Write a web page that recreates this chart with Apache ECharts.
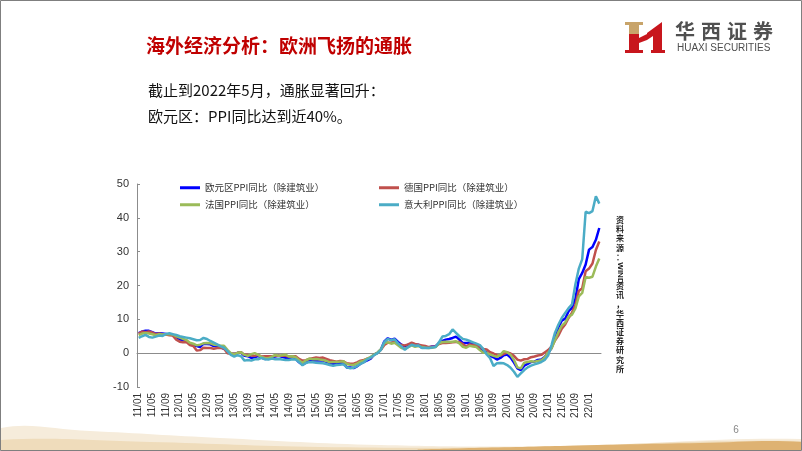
<!DOCTYPE html>
<html>
<head>
<meta charset="utf-8">
<script src="https://cdn.jsdelivr.net/npm/echarts@6/dist/echarts.min.js"></script>
<style>
html, body { margin: 0; padding: 0; background: #fff; }
#ppi { width: 802px; height: 451px; }
</style>
</head>
<body>
<div id="ppi"></div>
<script>
// 月份：2011/01 - 2022/04
let months = [];
for (let y = 11; y <= 22; y++) {
  for (let m = 1; m <= 12; m++) {
    if (y === 22 && m > 4) break;
    months.push(y + '/' + (m < 10 ? '0' + m : m));
  }
}

let seriesNames = [
  '欧元区PPI同比（除建筑业）',
  '德国PPI同比（除建筑业）',
  '法国PPI同比（除建筑业）',
  '意大利PPI同比（除建筑业）'
];

// 欧元区
let euroArea = [
  5.9, 6.4, 6.6, 6.6, 6.2, 5.8, 5.9, 5.8, 5.7, 5.5, 5.4, 4.8,
  4.1, 3.8, 3.5, 2.7, 2.4, 2.1, 1.8, 2.8, 2.7, 2.6, 2.1, 2.2,
  1.7, 1.3, 0.6, -0.2, -0.2, 0.1, 0.2, -0.8, -0.9, -1.4, -1.2, -0.8,
  -1.4, -1.7, -1.6, -1.2, -1.0, -0.8, -1.1, -1.4, -1.4, -1.3, -1.6, -2.7,
  -3.4, -2.8, -2.3, -2.2, -2.1, -2.2, -2.1, -2.6, -3.1, -3.1, -3.2, -3.0,
  -3.0, -4.2, -4.2, -4.4, -3.9, -3.1, -2.6, -2.1, -1.6, -0.4, 0.1, 1.1,
  3.5, 4.4, 3.9, 4.3, 3.3, 2.5, 2.0, 2.5, 2.8, 2.5, 2.5, 1.6,
  1.6, 1.7, 2.0, 2.0, 3.0, 3.6, 4.0, 4.2, 4.5, 4.9, 4.0, 3.0,
  3.0, 3.0, 2.9, 2.6, 1.6, 0.7, 0.2, -0.8, -1.2, -1.9, -1.4, -0.6,
  -0.4, -1.3, -2.8, -4.5, -5.0, -3.7, -3.2, -2.6, -2.5, -2.0, -1.9, -1.1,
  0.0, 1.5, 4.3, 7.6, 9.6, 10.2, 12.4, 13.4, 16.0, 21.9, 23.7, 26.2,
  30.6, 31.4, 33.5, 37.0
];
// 德国
let germany = [
  5.7, 6.4, 6.2, 6.4, 6.1, 5.6, 5.8, 5.5, 5.5, 5.3, 5.2, 4.0,
  3.4, 3.2, 3.3, 2.4, 2.1, 0.8, 0.9, 1.6, 1.5, 1.5, 1.3, 1.5,
  1.6, 1.4, 0.0, -0.2, -0.2, 0.1, 0.3, -0.5, -0.5, -0.7, -0.8, -0.5,
  -1.0, -0.9, -0.9, -0.9, -0.8, -0.7, -0.8, -0.8, -1.0, -1.0, -0.9, -1.7,
  -2.2, -2.1, -1.7, -1.5, -1.3, -1.4, -1.3, -1.7, -2.1, -2.3, -2.5, -2.3,
  -2.4, -3.0, -3.1, -3.1, -2.7, -2.2, -2.0, -1.6, -1.4, -0.4, 0.1, 1.0,
  2.4, 3.1, 3.1, 3.4, 2.8, 2.4, 2.3, 2.6, 3.1, 2.7, 2.5, 2.3,
  2.1, 1.8, 1.9, 2.0, 2.7, 3.0, 3.0, 3.1, 3.2, 3.3, 3.3, 2.7,
  1.9, 2.6, 2.4, 2.5, 1.9, 1.2, 1.1, 0.3, -0.1, -0.6, -0.7, -0.2,
  0.2, -0.1, -0.8, -1.9, -2.2, -1.8, -1.7, -1.2, -1.0, -0.7, -0.5, 0.2,
  0.9, 1.9, 3.7, 5.2, 7.2, 8.5, 10.4, 12.0, 14.2, 18.4, 19.2, 24.2,
  25.0, 26.5, 30.5, 33.0
];
// 法国
let france = [
  5.3, 5.8, 6.0, 5.8, 5.6, 5.3, 5.6, 5.5, 5.6, 5.6, 5.5, 5.0,
  4.6, 4.2, 3.9, 3.1, 2.8, 2.3, 2.5, 2.9, 3.0, 2.9, 2.5, 2.4,
  2.2, 2.2, 1.0, 0.0, -0.3, 0.1, 0.3, -0.5, -0.8, -0.3, 0.0, -0.5,
  -1.1, -1.4, -1.5, -1.1, -0.5, -0.8, -0.6, -0.4, -1.0, -0.9, -1.2, -2.1,
  -2.9, -2.1, -1.6, -1.8, -1.7, -1.9, -2.0, -2.3, -2.7, -2.6, -2.6, -2.5,
  -2.4, -3.2, -3.4, -3.5, -3.1, -2.5, -2.2, -1.6, -1.1, -0.4, 0.2, 1.2,
  3.0, 3.2, 2.8, 3.1, 2.3, 1.5, 1.3, 1.8, 2.3, 1.9, 2.1, 1.8,
  1.6, 1.5, 1.6, 1.8, 2.9, 3.3, 3.4, 3.3, 3.4, 3.5, 2.9, 1.9,
  1.6, 2.2, 2.0, 1.8, 0.9, 0.1, 0.1, -0.4, -0.8, -1.1, -0.5, 0.6,
  0.3, -0.5, -2.0, -4.2, -4.5, -2.8, -2.6, -2.4, -2.5, -2.3, -2.1, -1.3,
  0.2, 1.4, 3.8, 6.2, 8.1, 9.0, 10.8, 11.4, 13.2, 16.8, 17.8, 22.5,
  22.3, 22.6, 25.6, 28.0
];
// 意大利
let italy = [
  4.5, 5.0, 5.4, 4.8, 4.6, 4.9, 5.2, 5.1, 5.7, 5.9, 5.6, 5.4,
  5.0, 4.8, 4.6, 4.4, 4.1, 3.8, 3.9, 4.5, 4.2, 3.6, 3.1, 2.6,
  2.0, 1.6, 0.6, -0.5, -1.0, -0.6, -0.9, -2.2, -2.0, -2.2, -1.8, -1.8,
  -1.4, -1.8, -1.9, -1.6, -1.8, -1.7, -1.9, -2.0, -2.0, -1.8, -1.9, -2.6,
  -3.6, -2.9, -2.6, -2.7, -2.8, -2.9, -3.0, -3.2, -3.5, -3.7, -3.5, -3.4,
  -3.3, -4.2, -4.5, -4.3, -3.8, -3.2, -2.7, -1.8, -1.3, -0.6, 0.0, 1.0,
  3.3, 4.2, 3.8, 4.1, 2.9, 2.0, 1.0, 1.8, 2.5, 2.2, 2.3, 1.5,
  1.6, 1.5, 1.7, 1.8, 3.2, 4.9, 5.1, 5.6, 7.0, 6.0, 5.0, 4.2,
  4.0, 3.6, 3.2, 2.8, 2.4, 1.2, -0.4, -1.5, -3.8, -3.0, -2.9, -3.0,
  -3.5, -4.3, -5.5, -7.0, -6.0, -5.0, -4.2, -3.7, -3.3, -3.0, -2.6, -2.0,
  -0.7, 2.4, 6.0, 8.4, 10.4, 11.9, 13.3, 14.4, 20.4, 25.0, 27.8, 41.8,
  41.4, 42.0, 46.4, 44.2
];

let colors = ['#0000ff', '#c0504d', '#9bbb59', '#4bacc6'];
let yTicks = { min: -10, max: 50, step: 10 };

let cnFont = '"Noto Sans CJK SC", sans-serif';
let latFont = '"Liberation Sans", Arial, sans-serif';

// 右侧竖排的资料来源（逐字排列）
let sourceGraphic = [];
let sy = 220;
function pushChars (str) {
  str.split('').forEach(ch => {
    sourceGraphic.push({
      type: 'text', x: 620, y: sy,
      style: { text: ch, font: 'bold 8px ' + cnFont, fill: '#222', align: 'center', verticalAlign: 'middle' }
    });
    sy += 9.2;
  });
}
pushChars('资料来源：');
sourceGraphic.push({
  type: 'text', x: 620, y: sy + 7, rotation: -Math.PI / 2,
  style: { text: 'WIND', font: 'bold 8px ' + latFont, fill: '#222', align: 'center', verticalAlign: 'middle' }
});
sy += 20;
pushChars('资讯，华西证券研究所');

// 华西证券 字距较宽，逐字放置
let logoChars = [];
'华西证券'.split('').forEach((ch, i) => {
  logoChars.push({
    type: 'text', x: 685 + i * 26, y: 31,
    style: { text: ch, font: 'bold 20px ' + cnFont, fill: '#505050', align: 'center', verticalAlign: 'middle' }
  });
});

function legendAt (name, left, top) {
  return {
    data: [name],
    left: left,
    top: top,
    icon: 'rect',
    itemWidth: 20,
    itemHeight: 3,
    padding: 0,
    textStyle: { fontSize: 9.5, color: '#333', fontFamily: cnFont }
  };
}

let myChart = echarts.init(document.getElementById('ppi'));
myChart.setOption({
  animation: false,
  color: colors,
  legend: [
    legendAt(seriesNames[0], 180, 183),
    legendAt(seriesNames[1], 379, 183),
    legendAt(seriesNames[2], 180, 200),
    legendAt(seriesNames[3], 379, 200)
  ],
  grid: {
    left: 137,
    top: 184,
    width: 464,
    height: 203
  },
  xAxis: [
    {
      type: 'category',
      data: months,
      boundaryGap: true,
      axisLine: { show: false, onZero: false },
      axisTick: { show: false },
      axisLabel: {
        interval: 3,
        rotate: 90,
        margin: 6,
        fontSize: 10,
        color: '#333',
        fontFamily: latFont
      }
    },
    {
      type: 'category',
      data: months,
      boundaryGap: true,
      position: 'bottom',
      axisLine: { onZero: true, lineStyle: { color: '#8c8c8c', width: 1 } },
      axisTick: { interval: 3, inside: true, length: 3, alignWithLabel: true, lineStyle: { color: '#8c8c8c' } },
      axisLabel: { show: false, interval: 3 }
    }
  ],
  yAxis: {
    type: 'value',
    min: yTicks.min,
    max: yTicks.max,
    interval: yTicks.step,
    axisLine: { show: true, lineStyle: { color: '#8c8c8c', width: 1 } },
    axisTick: { show: true, inside: true, length: 3, lineStyle: { color: '#8c8c8c' } },
    splitLine: { show: false },
    axisLabel: { color: '#333', fontSize: 11, margin: 8, fontFamily: latFont }
  },
  series: [euroArea, germany, france, italy].map((d, i) => ({
    name: seriesNames[i],
    type: 'line',
    data: d,
    symbol: 'none',
    lineStyle: { width: 2.5, color: colors[i] },
    z: 2 + i
  })),
  graphic: [
    // 外框
    { type: 'rect', shape: { x: 0.5, y: 0.5, width: 801, height: 450 }, style: { fill: null, stroke: '#7f7f7f', lineWidth: 1 }, z: 100 },
    // 底部装饰
    { type: 'polygon', shape: { smooth: 0.4, points: [[1, 450], [1, 428], [90, 431], [220, 438], [380, 445], [560, 446], [801, 439], [801, 450]] }, style: { fill: '#f6ecdb' }, z: -1 },
    { type: 'polygon', shape: { smooth: 0.4, points: [[1, 450], [1, 440], [150, 442], [320, 447], [520, 447], [801, 441], [801, 450]] }, style: { fill: '#efdcbb' }, z: -1 },
    { type: 'polygon', shape: { smooth: 0.4, points: [[420, 450], [560, 446], [700, 443], [801, 442], [801, 450]] }, style: { fill: '#deb272' }, z: -1 },
    // 标题
    { type: 'text', x: 146, y: 46, style: { text: '海外经济分析：欧洲飞扬的通胀', font: 'bold 19px ' + cnFont, fill: '#c00000', verticalAlign: 'middle' } },
    { type: 'text', x: 148, y: 90, style: { text: '截止到2022年5月，通胀显著回升：', font: '15px ' + cnFont, fill: '#111', verticalAlign: 'middle' } },
    { type: 'text', x: 148, y: 116, style: { text: '欧元区：PPI同比达到近40%。', font: '15px ' + cnFont, fill: '#111', verticalAlign: 'middle' } },
    // 华西证券标志
    { type: 'polygon', shape: { points: [[625, 22], [643, 22], [643, 25], [639, 25], [639, 34], [629, 34], [629, 25], [625, 25]] }, style: { fill: '#c8a46a' } },
    { type: 'polygon', shape: { points: [[629, 34], [639, 34], [639, 38], [647, 34], [647, 40], [639, 43], [639, 50], [643, 50], [643, 53], [625, 53], [625, 50], [629, 50]] }, style: { fill: '#c8161d' } },
    { type: 'polygon', shape: { points: [[647, 33], [662, 22], [662, 50], [665, 50], [665, 53], [651, 53], [651, 50], [653, 50], [653, 36], [647, 40]] }, style: { fill: '#c8161d' } },
    { type: 'text', x: 677, y: 48.5, style: { text: 'HUAXI SECURITIES', font: '10px ' + latFont, fill: '#4d4d4d', verticalAlign: 'middle' } },
    // 页码
    { type: 'text', x: 736, y: 430, style: { text: '6', font: '10px ' + latFont, fill: '#888', align: 'center', verticalAlign: 'middle' } }
  ].concat(logoChars, sourceGraphic)
});

window.addEventListener('resize', () => {
  myChart.resize();
});
</script>
</body>
</html>
